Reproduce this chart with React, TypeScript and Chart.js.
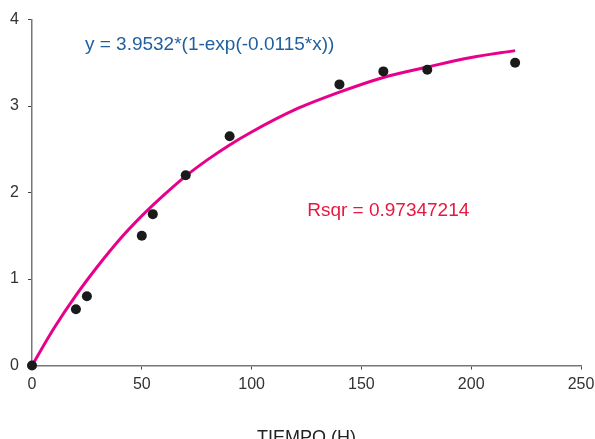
import React, { useEffect, useRef } from "react";
import { Chart, registerables } from "chart.js";

Chart.register(...registerables);

// Observed data (TIEMPO in hours, response)
const obsX = [0, 20, 25, 50, 55, 70, 90, 140, 160, 180, 220];
const obsY = [0, 0.65, 0.8, 1.5, 1.75, 2.2, 2.65, 3.25, 3.4, 3.42, 3.5];

// Fitted curve
const fitX = [0, 10, 20, 30, 40, 50, 60, 70, 80, 90, 100, 120, 140, 160, 180, 200, 220];
const fitY = [0, 0.43, 0.81, 1.15, 1.46, 1.73, 1.97, 2.19, 2.38, 2.55, 2.7, 2.96, 3.16, 3.33, 3.45, 3.56, 3.64];

const xTicks = [0, 50, 100, 150, 200, 250];
const yTicks = [0, 1, 2, 3, 4];

const equationText = "y = 3.9532*(1-exp(-0.0115*x))";
const rsqrText = "Rsqr = 0.97347214";
const xTitle = "TIEMPO (H)";

const FONT = "'Liberation Sans', Arial, sans-serif";

const annotationPlugin = {
  id: "annotations",
  afterDatasetsDraw(chart: any) {
    const { ctx, scales } = chart;
    const xs = scales.x;
    const ys = scales.y;
    ctx.save();
    ctx.font = `19px ${FONT}`;
    ctx.textBaseline = "middle";
    ctx.textAlign = "left";
    ctx.fillStyle = "#1f5f9f";
    ctx.fillText(equationText, xs.getPixelForValue(24.1), ys.getPixelForValue(3.705));
    ctx.fillStyle = "#e8173f";
    ctx.fillText(rsqrText, xs.getPixelForValue(125.3), ys.getPixelForValue(1.786));
    ctx.restore();
  },
};

export default function App() {
  const ref = useRef<HTMLCanvasElement>(null);
  useEffect(() => {
    document.body.style.margin = "0";
    const canvas = ref.current!;
    const chart = new Chart(canvas, {
      type: "scatter",
      data: {
        datasets: [
          {
            label: "obs",
            data: obsX.map((x, i) => ({ x, y: obsY[i] })),
            backgroundColor: "#1a1a1a",
            borderColor: "#1a1a1a",
            pointRadius: 5,
            pointBorderWidth: 0,
            showLine: false,
            order: 0,
            clip: false as any,
          },
          {
            label: "fit",
            data: fitX.map((x, i) => ({ x, y: fitY[i] })),
            borderColor: "#e8008a",
            backgroundColor: "#e8008a",
            borderWidth: 3,
            pointRadius: 0,
            showLine: true,
            cubicInterpolationMode: "monotone",
            order: 1,
            clip: false as any,
          },
        ],
      },
      options: {
        responsive: false,
        animation: false,
        events: [],
        layout: { padding: { left: 0, right: 0, top: 19.5, bottom: 0 } },
        plugins: {
          legend: { display: false },
          tooltip: { enabled: false },
          title: { display: false },
        },
        scales: {
          x: {
            type: "linear",
            min: 0,
            max: 250,
            afterBuildTicks: (axis: any) => {
              axis.ticks = xTicks.map((v) => ({ value: v }));
            },
            afterFit: (axis: any) => {
              axis.height = 73.5;
              axis.paddingRight = 14;
              axis.paddingLeft = 0;
            },
            grid: {
              drawOnChartArea: false,
              drawTicks: true,
              tickLength: 4,
              color: "#444",
              lineWidth: 1,
            },
            border: { display: true, color: "#777", width: 1.5 },
            ticks: {
              color: "#333",
              font: { family: FONT, size: 16 },
              padding: 5,
              maxRotation: 0,
            },
            title: {
              display: true,
              text: xTitle,
              color: "#222",
              font: { family: FONT, size: 18 },
              padding: { top: 29, bottom: -10 },
            },
          },
          y: {
            type: "linear",
            min: 0,
            max: 4,
            afterBuildTicks: (axis: any) => {
              axis.ticks = yTicks.map((v) => ({ value: v }));
            },
            afterFit: (axis: any) => {
              axis.width = 32;
            },
            grid: {
              drawOnChartArea: false,
              drawTicks: true,
              tickLength: 4,
              color: "#444",
              lineWidth: 1,
            },
            border: { display: true, color: "#777", width: 1.5 },
            ticks: {
              color: "#333",
              font: { family: FONT, size: 16 },
              padding: 9,
            },
          },
        },
      },
      plugins: [annotationPlugin],
    });
    return () => chart.destroy();
  }, []);
  return (
    <div style={{ width: 595, height: 439, background: "#fff" }}>
      <canvas ref={ref} width={595} height={439} />
    </div>
  );
}
